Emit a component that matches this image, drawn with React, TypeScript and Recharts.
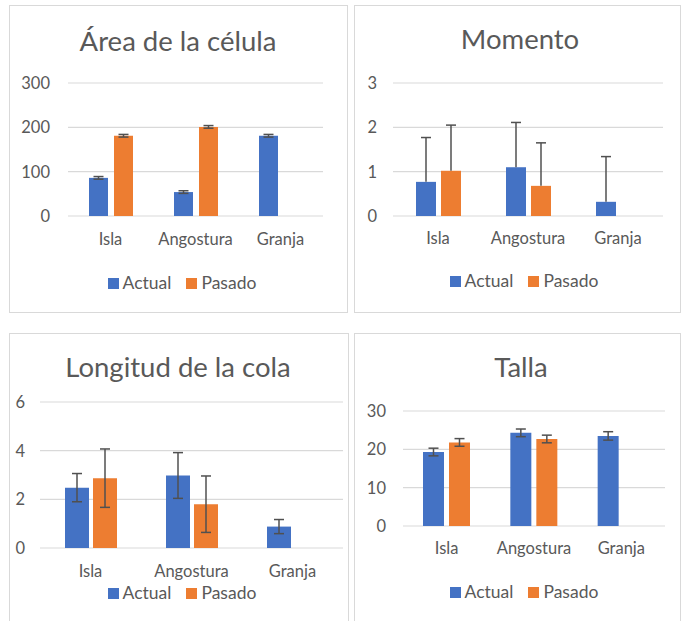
import React from 'react';
import { BarChart, Bar, XAxis, YAxis, CartesianGrid, ErrorBar } from 'recharts';

const FONT = 'Lato, "Liberation Sans", sans-serif';
const TEXT = '#595959';
const GRID = '#d9d9d9';
const BLUE = '#4472c4';
const ORANGE = '#ed7d31';
const ERR = '#505050';

const categories = ['Isla', 'Angostura', 'Granja'];

// Área de la célula
const areaActual = [86, 54, 181];
const areaPasado = [181, 201, null];
const areaActualErr = [3, 3, 3];
const areaPasadoErr = [3, 3, null];
const areaTicks = [0, 100, 200, 300];

// Momento (error bars only go up)
const momentoActual = [0.77, 1.1, 0.32];
const momentoPasado = [1.02, 0.68, null];
const momentoActualErr = [1.0, 1.01, 1.02];
const momentoPasadoErr = [1.03, 0.97, null];
const momentoTicks = [0, 1, 2, 3];

// Longitud de la cola
const colaActual = [2.48, 2.98, 0.88];
const colaPasado = [2.87, 1.8, null];
const colaActualErr = [0.58, 0.94, 0.29];
const colaPasadoErr = [1.2, 1.16, null];
const colaTicks = [0, 2, 4, 6];

// Talla
const tallaActual = [19.3, 24.3, 23.5];
const tallaPasado = [21.8, 22.7, null];
const tallaActualErr = [1.0, 1.0, 1.1];
const tallaPasadoErr = [1.0, 1.0, null];
const tallaTicks = [0, 10, 20, 30];

function buildRows(actual, pasado, actualErr, pasadoErr) {
  return categories.map((name, i) => ({
    name,
    actual: actual[i],
    pasado: pasado[i],
    actualErr: actualErr[i],
    pasadoErr: pasadoErr[i],
  }));
}

// bar with an error line drawn upward only (Excel "plus" direction)
const plusErrShape = (dataKey, errKey) => (props) => {
  const { x, y, width, height, fill, payload } = props;
  const v = payload[dataKey];
  const err = payload[errKey];
  if (v == null || !height || height <= 0) return <g />;
  const k = height / v;
  const top = y - err * k;
  const cx = x + width / 2;
  return (
    <g>
      <rect x={x} y={y} width={width} height={height} fill={fill} />
      <line x1={cx} x2={cx} y1={y} y2={top} stroke={ERR} strokeWidth={1.5} />
      <line x1={cx - 5} x2={cx + 5} y1={top} y2={top} stroke={ERR} strokeWidth={1.5} />
    </g>
  );
};

const panels = [
  {
    title: 'Área de la célula',
    rows: buildRows(areaActual, areaPasado, areaActualErr, areaPasadoErr),
    ticks: areaTicks,
    box: { x: 9, y: 5, w: 339, h: 308 },
    plot: { l: 68, r: 323, t: 83, b: 216 },
    barSize: 19, barGap: 6, yGap: 18, xOff: 24,
    titleC: [178, 42], legendC: [182, 283],
    plusOnly: false,
  },
  {
    title: 'Momento',
    rows: buildRows(momentoActual, momentoPasado, momentoActualErr, momentoPasadoErr),
    ticks: momentoTicks,
    box: { x: 354, y: 5, w: 327, h: 308 },
    plot: { l: 393, r: 663, t: 83, b: 216 },
    barSize: 20, barGap: 5, yGap: 16, xOff: 23,
    titleC: [520, 40], legendC: [524, 281],
    plusOnly: true,
  },
  {
    title: 'Longitud de la cola',
    rows: buildRows(colaActual, colaPasado, colaActualErr, colaPasadoErr),
    ticks: colaTicks,
    box: { x: 9, y: 333, w: 340, h: 300 },
    plot: { l: 40, r: 343, t: 402, b: 548 },
    barSize: 24, barGap: 4, yGap: 15, xOff: 24,
    titleC: [178, 368], legendC: [182, 593],
    plusOnly: false,
  },
  {
    title: 'Talla',
    rows: buildRows(tallaActual, tallaPasado, tallaActualErr, tallaPasadoErr),
    ticks: tallaTicks,
    box: { x: 354, y: 333, w: 327, h: 300 },
    plot: { l: 403, r: 665, t: 411, b: 526 },
    barSize: 21, barGap: 5, yGap: 17, xOff: 23,
    titleC: [521, 368], legendC: [524, 592],
    plusOnly: false,
  },
];

function LegendBox({ cx, cy }) {
  const item = (color, label, last) => (
    <span style={{ display: 'inline-flex', alignItems: 'center', marginRight: last ? 0 : 15 }}>
      <span style={{ width: 11, height: 11, background: color, marginRight: 4, display: 'inline-block' }} />
      <span>{label}</span>
    </span>
  );
  return (
    <div
      style={{
        position: 'absolute', left: cx - 120, top: cy - 11, width: 240, height: 22,
        display: 'flex', justifyContent: 'center', alignItems: 'center',
        fontFamily: FONT, fontSize: 17.5, color: TEXT, lineHeight: '22px', whiteSpace: 'nowrap',
      }}
    >
      {item(BLUE, 'Actual', false)}
      {item(ORANGE, 'Pasado', true)}
    </div>
  );
}

function Panel({ cfg }) {
  const { box, plot, ticks } = cfg;
  const xAxisH = 40;
  const yAxisW = 40;
  const margin = {
    top: plot.t - box.y,
    right: box.x + box.w - plot.r,
    left: plot.l - box.x - yAxisW,
    bottom: box.h - (plot.b - box.y) - xAxisH,
  };
  const tick = { fill: TEXT, fontSize: 16.5, fontFamily: FONT };
  const titleSize = 27.5;
  return (
    <>
      <div
        style={{
          position: 'absolute', left: box.x, top: box.y, width: box.w, height: box.h,
          border: `1px solid ${GRID}`, boxSizing: 'border-box',
        }}
      />
      <div style={{ position: 'absolute', left: box.x, top: box.y }}>
        <BarChart width={box.w} height={box.h} data={cfg.rows} margin={margin} barSize={cfg.barSize} barGap={cfg.barGap}>
          <CartesianGrid vertical={false} stroke={GRID} strokeWidth={1.2} />
          <XAxis
            dataKey="name" axisLine={false} tickLine={false} tickSize={0}
            tickMargin={cfg.xOff - 7} height={xAxisH} tick={tick} interval={0}
          />
          <YAxis
            domain={[ticks[0], ticks[ticks.length - 1]]} ticks={ticks} width={yAxisW}
            axisLine={false} tickLine={false} tickSize={0} tickMargin={cfg.yGap} tick={tick} interval={0}
          />
          {cfg.plusOnly ? (
            <Bar dataKey="actual" fill={BLUE} isAnimationActive={false} shape={plusErrShape('actual', 'actualErr')} />
          ) : (
            <Bar dataKey="actual" fill={BLUE} isAnimationActive={false}>
              <ErrorBar dataKey="actualErr" width={5} stroke={ERR} strokeWidth={1.5} />
            </Bar>
          )}
          {cfg.plusOnly ? (
            <Bar dataKey="pasado" fill={ORANGE} isAnimationActive={false} shape={plusErrShape('pasado', 'pasadoErr')} />
          ) : (
            <Bar dataKey="pasado" fill={ORANGE} isAnimationActive={false}>
              <ErrorBar dataKey="pasadoErr" width={5} stroke={ERR} strokeWidth={1.5} />
            </Bar>
          )}
        </BarChart>
      </div>
      <div
        style={{
          position: 'absolute', left: cfg.titleC[0] - 160, top: cfg.titleC[1] - titleSize * 0.53,
          width: 320, textAlign: 'center', fontFamily: FONT, fontSize: titleSize,
          lineHeight: `${titleSize}px`, color: TEXT, whiteSpace: 'nowrap',
        }}
      >
        {cfg.title}
      </div>
      <LegendBox cx={cfg.legendC[0]} cy={cfg.legendC[1]} />
    </>
  );
}

export default function App() {
  return (
    <div
      style={{
        position: 'absolute', left: 0, top: 0, width: 682, height: 621,
        background: '#fff', overflow: 'hidden',
      }}
    >
      {panels.map((p) => (
        <Panel key={p.title} cfg={p} />
      ))}
    </div>
  );
}
